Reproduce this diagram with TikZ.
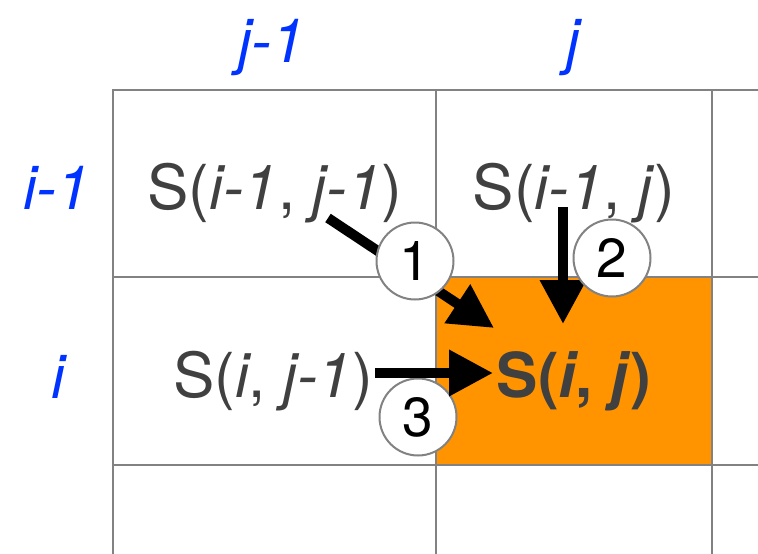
\documentclass[tikz,border=0pt]{standalone}
\usepackage{fontspec}
\setmainfont{TeX Gyre Heros}
\usetikzlibrary{arrows.meta}
\definecolor{gridgray}{RGB}{130,130,130}
\definecolor{cellorange}{RGB}{255,148,0}
\definecolor{txtgray}{RGB}{64,64,64}
\definecolor{lblblue}{RGB}{0,51,255}
\tikzset{
  gridline/.style={draw=gridgray, line width=2pt},
  celltext/.style={text=txtgray, font=\fontsize{62}{62}\selectfont, inner sep=0pt, anchor=base},
  idxlabel/.style={text=lblblue, font=\fontsize{61}{61}\selectfont\itshape, inner sep=0pt, anchor=base},
  numcircle/.style={circle, draw=gridgray, line width=2pt, fill=white, minimum size=77pt, inner sep=0pt, font=\fontsize{55}{55}\selectfont, text=black},
  bigarrow/.style={draw=black, line width=10pt, -{Triangle[length=44pt, width=44pt]}}
}
\begin{document}
\begin{tikzpicture}[x=1pt, y=-1pt]
\useasboundingbox (0,0) rectangle (758,554);
% orange cell
\fill[cellorange] (436,277) rectangle (712,465);
% grid
\draw[gridline] (113,554) -- (113,90) -- (758,90);
\draw[gridline] (436,90) -- (436,554);
\draw[gridline] (712,90) -- (712,554);
\draw[gridline] (113,277) -- (758,277);
\draw[gridline] (113,465) -- (758,465);
% index labels
\node[idxlabel] (lj1) at (272,62) {j-1};
\node[idxlabel] (lj) at (573,62) {j};
\node[idxlabel] (li1) at (57,209) {i-1};
\node[idxlabel] (li) at (58,398) {i};
% cell texts
\node[celltext] (s11) at (275,209) {S(\textit{i-1}, \textit{j-1})};
\node[celltext] (s10) at (574,209) {S(\textit{i-1}, \textit{j})};
\node[celltext] (s01) at (273,397) {S(\textit{i}, \textit{j-1})};
\node[celltext, font=\fontsize{62}{62}\selectfont\bfseries] (s00) at (574,397) {S(\textit{i}, \textit{j})};
% arrow endpoints
\coordinate (a1s) at (328,218);
\coordinate (a1e) at (494,328);
\coordinate (a2s) at (563,207);
\coordinate (a2e) at (563,324);
\coordinate (a3s) at (375,373);
\coordinate (a3e) at (493,373);
% circles and arrows
\node[numcircle] (c3) at (418,417) {3};
\draw[bigarrow] (a1s) -- (a1e);
\node[numcircle] (c1) at (415,261) {1};
\draw[bigarrow] (a2s) -- (a2e);
\node[numcircle] (c2) at (612,258) {2};
\draw[bigarrow] (a3s) -- (a3e);
\end{tikzpicture}
\end{document}
